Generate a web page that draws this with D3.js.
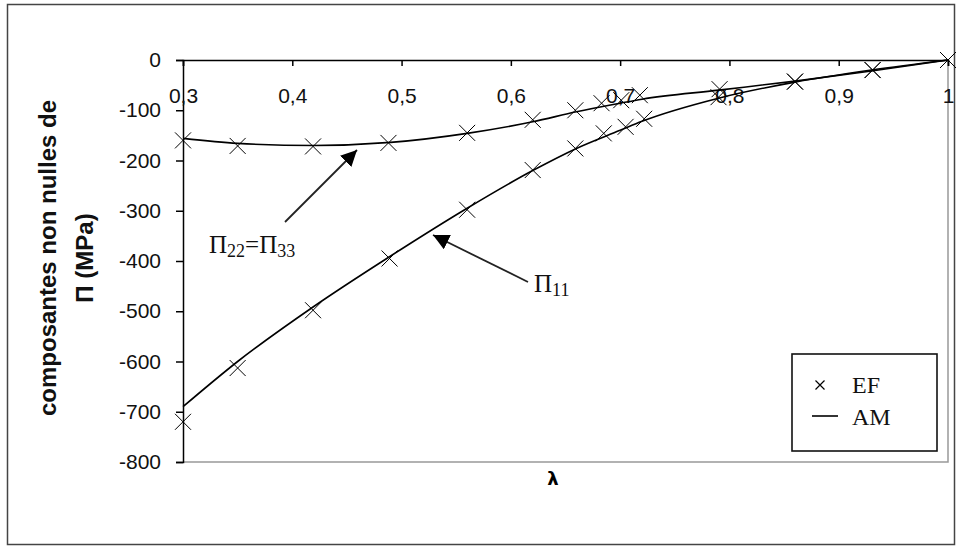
<!DOCTYPE html>
<html><head><meta charset="utf-8">
<script src="https://cdn.jsdelivr.net/npm/d3@7"></script>
<style>body{margin:0;background:#fff}svg{display:block}</style>
</head><body>
<svg id="c" width="958" height="547"></svg>
<script>
// ---- data ----
const xTicks = [0.3,0.4,0.5,0.6,0.7,0.8,0.9,1];
const xTickLabels = ["0,3","0,4","0,5","0,6","0,7","0,8","0,9","1"];
const yTicks = [0,-100,-200,-300,-400,-500,-600,-700,-800];
const yTickLabels = ["0","-100","-200","-300","-400","-500","-600","-700","-800"];
// EF (finite elements) markers
const efLambda22 = [0.3,0.35,0.419,0.488,0.56,0.62,0.659,0.683,0.701,0.718,0.791,0.86,0.931,1];
const efPi22     = [-160,-171,-172,-165,-145,-119,-100,-86,-80,-70,-58,-43,-20,0];
const efLambda11 = [0.3,0.35,0.419,0.489,0.56,0.62,0.659,0.685,0.705,0.722,0.79,0.86,0.931,1];
const efPi11     = [-720,-613,-498,-395,-298,-219,-176,-146,-133,-117,-74,-43,-20,0];
// AM (analytical model) curves
const amLambda22 = [0.3,0.35,0.42,0.49,0.56,0.62,0.66,0.7,0.72,0.79,0.86,0.93,1];
const amPi22     = [-156,-166,-170,-164,-146,-123,-103,-86,-78,-60,-42,-22,0];
const amLambda11 = [0.3,0.35,0.42,0.49,0.56,0.62,0.66,0.7,0.72,0.79,0.86,0.93,1];
const amPi11     = [-690,-600,-490,-390,-295,-220,-176,-140,-122,-76,-44,-20,0];
const legendLabels = ["EF","AM"];

// ---- drawing ----
const svg = d3.select("#c");
const x = d3.scaleLinear().domain([0.3,1]).range([183,948]);
const y = d3.scaleLinear().domain([-800,0]).range([462,60]);

svg.append("rect").attr("x",7.5).attr("y",4.5).attr("width",947).attr("height",540)
  .attr("fill","#fff").attr("stroke","#444").attr("stroke-width",1.5);

// plot frame right & bottom (grey)
svg.append("path").attr("d",`M${x(1)},${y(0)}V${y(-800)}H${x(0.3)}`)
  .attr("fill","none").attr("stroke","#999").attr("stroke-width",1.5);

const tickFont = "'Liberation Sans', Arial, sans-serif";
// y axis
const yAxis = svg.append("g").attr("transform",`translate(${x(0.3)},0)`)
  .call(d3.axisLeft(y).tickValues(yTicks).tickSize(7).tickPadding(15)
    .tickFormat((d,i)=>yTickLabels[i]));
yAxis.select(".domain").attr("stroke","#000").attr("stroke-width",1.5);
yAxis.selectAll(".tick line").attr("stroke","#000").attr("stroke-width",1.5);
yAxis.selectAll("text").attr("font-family",tickFont).attr("font-size",21).attr("fill","#111");

// x axis at y=0
const xAxis = svg.append("g").attr("transform",`translate(0,${y(0)})`)
  .call(d3.axisBottom(x).tickValues(xTicks).tickSize(6).tickPadding(22)
    .tickFormat((d,i)=>xTickLabels[i]));
xAxis.select(".domain").attr("stroke","#000").attr("stroke-width",1.5);
xAxis.selectAll(".tick line").attr("stroke","#000").attr("stroke-width",1.5);
xAxis.selectAll("text").attr("font-family",tickFont).attr("font-size",21).attr("fill","#111");

// curves
const line = d3.line().x(d=>x(d[0])).y(d=>y(d[1])).curve(d3.curveMonotoneX);
[[amLambda22,amPi22],[amLambda11,amPi11]].forEach(([lx,ly])=>{
  svg.append("path").datum(lx.map((v,i)=>[v,ly[i]])).attr("d",line)
    .attr("fill","none").attr("stroke","#000").attr("stroke-width",1.6);
});

// markers
const cross = (g,cx,cy,s,w)=>g.append("path")
  .attr("d",`M${cx-s},${cy-s}L${cx+s},${cy+s}M${cx-s},${cy+s}L${cx+s},${cy-s}`)
  .attr("stroke","#000").attr("stroke-width",w||1).attr("fill","none");
const mk = svg.append("g");
[[efLambda22,efPi22],[efLambda11,efPi11]].forEach(([lx,ly])=>{
  lx.forEach((v,i)=>cross(mk,x(v),y(ly[i]),8,1));
});

// y label
const yl = svg.append("text").attr("transform","translate(0,258) rotate(-90)")
  .attr("text-anchor","middle").attr("font-family",tickFont).attr("font-weight","bold")
  .attr("font-size",24).attr("fill","#111");
yl.append("tspan").attr("x",0).attr("y",56).text("composantes non nulles de");
yl.append("tspan").attr("x",0).attr("y",93).text("Π (MPa)");

// x label
svg.append("text").attr("x",553).attr("y",485).attr("text-anchor","middle")
  .attr("font-family","'DejaVu Sans', sans-serif").attr("font-weight","bold")
  .attr("font-size",18).text("λ");

// annotations
const defs = svg.append("defs");
defs.append("marker").attr("id","ah").attr("viewBox","0 0 10 10").attr("refX",10).attr("refY",5)
  .attr("markerWidth",16).attr("markerHeight",16).attr("orient","auto")
  .attr("markerUnits","userSpaceOnUse")
  .append("path").attr("d","M0,0L10,5L0,10z").attr("fill","#000");
const serif = "'Liberation Serif','Times New Roman',serif";
svg.append("line").attr("x1",285).attr("y1",222).attr("x2",357).attr("y2",150)
  .attr("stroke","#222").attr("stroke-width",1.8).attr("marker-end","url(#ah)");
svg.append("line").attr("x1",528).attr("y1",282).attr("x2",433).attr("y2",235)
  .attr("stroke","#222").attr("stroke-width",1.8).attr("marker-end","url(#ah)");

const a1 = svg.append("text").attr("x",209).attr("y",253).attr("font-family",serif)
  .attr("font-size",25).attr("fill","#111");
a1.append("tspan").text("Π");
a1.append("tspan").attr("font-size",18).attr("dy",4).text("22");
a1.append("tspan").attr("dy",-4).text("=Π");
a1.append("tspan").attr("font-size",18).attr("dy",4).text("33");
const a2 = svg.append("text").attr("x",534).attr("y",292).attr("font-family",serif)
  .attr("font-size",25).attr("fill","#111");
a2.append("tspan").text("Π");
a2.append("tspan").attr("font-size",18).attr("dy",4).text("11");

// legend
const lg = svg.append("g");
lg.append("rect").attr("x",792).attr("y",354).attr("width",145).attr("height",97)
  .attr("fill","#fff").attr("stroke","#111").attr("stroke-width",1.6);
cross(lg,820,385,4.5,1.2);
lg.append("line").attr("x1",812).attr("x2",838).attr("y1",416).attr("y2",416)
  .attr("stroke","#000").attr("stroke-width",1.6);
lg.selectAll("text.l").data(legendLabels).enter().append("text")
  .attr("x",852).attr("y",(d,i)=>393+i*32).attr("font-family",serif)
  .attr("font-size",24).attr("fill","#111").text(d=>d);
</script>
</body></html>
